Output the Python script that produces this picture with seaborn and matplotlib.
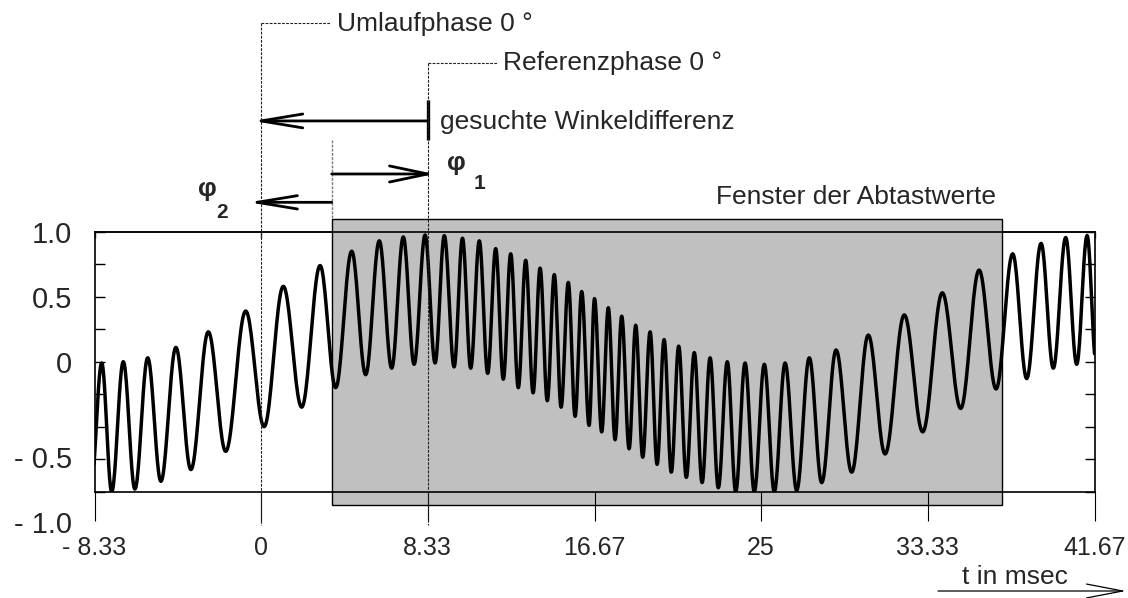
import numpy as np
import pandas as pd
import matplotlib
matplotlib.use("Agg")
import matplotlib.pyplot as plt
import seaborn as sns
from matplotlib.patches import Rectangle, FancyArrowPatch
from matplotlib.ticker import FixedLocator
from matplotlib.transforms import ScaledTranslation

# ---------------- data ----------------
# alternating extrema of the signal (trough, peak, trough, ...): time in ms, value
ext_t = [-8.52, -7.97, -7.47, -6.89, -6.31, -5.67, -5.01, -4.26, -3.51, -2.64,
         -1.77, -0.77, 0.15, 1.11, 2.03, 2.95, 3.73, 4.53, 5.23, 5.91,
         6.53, 7.11, 7.65, 8.20, 8.70, 9.16, 9.65, 10.07, 10.48, 10.91,
         11.33, 11.73, 12.11, 12.48, 12.86, 13.23, 13.60, 13.95, 14.31, 14.66,
         15.00, 15.36, 15.70, 16.03, 16.40, 16.67, 17.03, 17.36, 17.70, 18.03,
         18.40, 18.73, 19.08, 19.45, 19.80, 20.15, 20.51, 20.88, 21.26, 21.66,
         22.05, 22.45, 22.86, 23.31, 23.73, 24.20, 24.66, 25.16, 25.66, 26.20,
         26.78, 27.41, 28.03, 28.75, 29.53, 30.36, 31.20, 32.16, 33.08, 34.06,
         34.98, 35.90, 36.75, 37.58, 38.28, 39.00, 39.61, 40.23, 40.78, 41.30,
         41.75]
ext_v = [-1.00, -0.01, -1.00, 0.00, -0.98, 0.03, -0.92, 0.11, -0.83, 0.23,
         -0.69, 0.39, -0.50, 0.58, -0.35, 0.74, -0.20, 0.85, -0.10, 0.93,
         -0.05, 0.96, -0.02, 0.975, -0.01, 0.97, -0.04, 0.95, -0.05, 0.93,
         -0.09, 0.87, -0.135, 0.83, -0.20, 0.78, -0.24, 0.72, -0.30, 0.67,
         -0.35, 0.61, -0.42, 0.54, -0.49, 0.485, -0.54, 0.415, -0.60, 0.35,
         -0.67, 0.28, -0.735, 0.23, -0.79, 0.17, -0.85, 0.12, -0.89, 0.07,
         -0.93, 0.03, -0.97, 0.00, -1.00, -0.01, -1.00, -0.02, -1.00, -0.01,
         -0.99, 0.03, -0.93, 0.09, -0.85, 0.205, -0.71, 0.36, -0.54, 0.53,
         -0.36, 0.705, -0.21, 0.83, -0.13, 0.91, -0.05, 0.955, -0.02, 0.97,
         -0.01]

xtick_vals = [-8.33, 0, 8.33, 16.67, 25, 33.33, 41.67]
xtick_labels = ["- 8.33", "0", "8.33", "16.67", "25", "33.33", "41.67"]
ytick_vals = [1.0, 0.5, 0.0, -0.5, -1.0]
ytick_labels = ["1.0", "0.5", "0", "- 0.5", "- 1.0"]
yminor_vals = [-0.75, -0.25, 0.25, 0.75]

window_start, window_end = 3.53, 37.06      # Fenster der Abtastwerte
umlauf_t, ref_t = 0.0, 8.33                  # Umlaufphase 0°, Referenzphase 0°

# ---------------- smooth curve through the extrema ----------------
T, V = [], []
for i in range(len(ext_t) - 1):
    s = np.linspace(0, 1, 24)
    if i < len(ext_t) - 2:
        s = s[:-1]
    a, b = ext_v[i], ext_v[i + 1]
    T.extend(ext_t[i] + (ext_t[i + 1] - ext_t[i]) * s)
    V.extend((a + b) / 2 + (a - b) / 2 * np.cos(np.pi * s))
df = pd.DataFrame({"t": T, "v": V})

# ---------------- figure ----------------
sns.set_theme(style="white")
plt.rcParams["font.family"] = ["Liberation Sans", "DejaVu Sans"]

fig = plt.figure(figsize=(11.28, 5.98), dpi=100)
ax = fig.add_axes([94.5 / 1128, 1 - 491.7 / 598, 1000 / 1128, 260 / 598])

sns.lineplot(data=df, x="t", y="v", ax=ax, color="black", lw=2.5,
             estimator=None, sort=False, legend=False, zorder=3)
ax.set_xlabel("")
ax.set_ylabel("")
ax.set_xlim(-8.33, 41.67)
ax.set_ylim(-1.0, 1.0)

PX_PER_MS = 1000 / 50.0   # axis scale, used only to compensate arrow-tip offsets

# sampling window
ax.add_patch(Rectangle((window_start, -1.1), window_end - window_start, 2.2,
                       facecolor="#c0c0c0", edgecolor="black", lw=1.0,
                       clip_on=False, zorder=0.5))

for sp in ax.spines.values():
    sp.set_color("black")
    sp.set_linewidth(1.2)
    sp.set_zorder(4)

# y ticks
ax.set_yticks(ytick_vals, ytick_labels)
ax.yaxis.set_minor_locator(FixedLocator(yminor_vals))
ax.tick_params(axis="y", which="both", direction="in", left=True, right=True,
               length=7, width=1, color="black", labelsize=21, pad=16)
off = ScaledTranslation(0, -0.30, fig.dpi_scale_trans)
for tk, val in zip(ax.yaxis.get_major_ticks(), ytick_vals):
    if val < 0:
        tk.label1.set_transform(tk.label1.get_transform() + off)

# x ticks
ax.set_xticks(xtick_vals, xtick_labels)
ax.tick_params(axis="x", which="both", direction="out", bottom=True, top=False,
               length=21, width=0.8, color="black", labelsize=18, pad=11)
sec = ax.secondary_xaxis("top")
sec.set_xticks(xtick_vals)
sec.tick_params(axis="x", direction="in", length=4, width=1, labeltop=False)
sec.spines["top"].set_linewidth(1.2)

# ---------------- annotations ----------------
dash = dict(color="#222222", lw=0.8, linestyle=(0, (2.5, 1.2)), clip_on=False, zorder=5)
ax.plot([umlauf_t, umlauf_t], [2.608, -1.256], **dash)
ax.plot([umlauf_t, 3.45], [2.608, 2.608], **dash)
ax.plot([ref_t, ref_t], [2.295, -1.256], **dash)
ax.plot([ref_t, 11.78], [2.295, 2.295], **dash)
ax.plot([window_start, window_start], [1.705, 1.1], color="#7a7a7a", lw=1.0,
        linestyle=(0, (2, 1)), clip_on=False)

ax.text(3.78, 2.598, "Umlaufphase 0 °", fontsize=19, va="center", ha="left")
ax.text(12.11, 2.298, "Referenzphase 0 °", fontsize=19, va="center", ha="left")
ax.text(8.945, 1.846, "gesuchte Winkeldifferenz", fontsize=19, va="center", ha="left")
ax.text(22.75, 1.267, "Fenster der Abtastwerte", fontsize=19, va="center", ha="left")


def open_arrow(tip, tail, y, hl, hw, lw=2.0):
    """Open arrow whose tip lands exactly on `tip` (compensates the line pad)."""
    sin_t = hw / np.hypot(hl, hw)
    pad_ms = (0.5 * lw / sin_t) * 100 / 72 / PX_PER_MS
    direction = np.sign(tip - tail)
    ax.annotate("", xy=(tip + direction * pad_ms, y), xytext=(tail, y),
                annotation_clip=False,
                arrowprops=dict(arrowstyle=f"->,head_length={hl},head_width={hw}",
                                lw=lw, color="black", shrinkA=0, shrinkB=0,
                                mutation_scale=10))


# big arrow (gesuchte Winkeldifferenz)
open_arrow(umlauf_t, ref_t, 1.852, 3.0, 0.5)
ax.plot([ref_t, ref_t], [1.705, 2.013], color="black", lw=2.4, clip_on=False,
        solid_capstyle="butt")

# phi 1 arrow
open_arrow(ref_t, window_start, 1.444, 2.75, 0.58)
ax.text(9.78, 1.529, "φ", fontsize=19, fontweight="bold", ha="center", va="center")
ax.text(10.94, 1.37, "1", fontsize=15, fontweight="bold", ha="center", va="center")

# phi 2 arrow
open_arrow(umlauf_t - 0.2, window_start, 1.226, 2.9, 0.48)
ax.text(-2.7, 1.33, "φ", fontsize=19, fontweight="bold", ha="center", va="center")
ax.text(-1.95, 1.15, "2", fontsize=15, fontweight="bold", ha="center", va="center")

# time axis label with arrow
fig.text(1015 / 1128, 1 - 577 / 598, "t in msec", fontsize=19, ha="center", va="center")
fig.patches.append(FancyArrowPatch(
    (938 / 1128, 1 - 591 / 598), (1126 / 1128, 1 - 591 / 598),
    transform=fig.transFigure, arrowstyle="->,head_length=2.6,head_width=0.5",
    mutation_scale=10, lw=0.9, color="black", shrinkA=0, shrinkB=0))

fig.savefig("out.png", dpi=100, facecolor="white")
